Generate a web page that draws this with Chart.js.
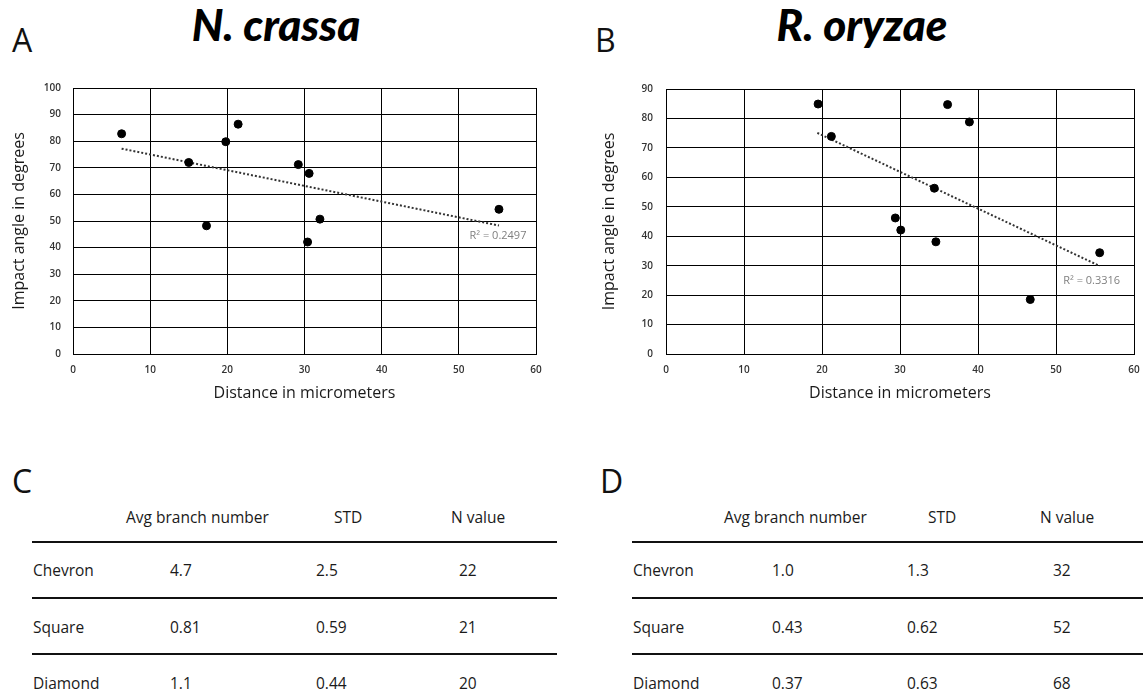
<!DOCTYPE html>
<html>
<head>
<meta charset="utf-8">
<script src="https://cdn.jsdelivr.net/npm/chart.js@4/dist/chart.umd.min.js"></script>
<style>
body { margin: 0; background: #fff; font-family: "Open Sans", sans-serif; color: #1a1a1a; }
#page { position: relative; width: 1143px; height: 700px; overflow: hidden; }
.abs { position: absolute; white-space: nowrap; }
.letter { font-size: 32px; line-height: 1; color: #111; }
.species { font-family: Lato, sans-serif; font-weight: 900; font-style: italic; font-size: 44px; line-height: 1; color: #000; transform: translateX(-50%); }
.cell { font-size: 15.5px; line-height: 1; transform: translateY(-50%); }
.rule { height: 2px; background: #111; }
canvas { position: absolute; }
</style>
</head>
<body>
<div id="page">
  <div class="abs letter" style="left:12px;top:24px">A</div>
  <div class="abs letter" style="left:595px;top:24px">B</div>
  <div class="abs letter" style="left:12px;top:465px">C</div>
  <div class="abs letter" style="left:600px;top:465px">D</div>
  <div class="abs species" style="left:276px;top:2px">N. crassa</div>
  <div class="abs species" style="left:862px;top:2px">R. oryzae</div>
  <canvas id="chartA" width="560" height="334" style="left:0;top:70px"></canvas>
  <canvas id="chartB" width="563" height="334" style="left:580px;top:70px"></canvas>
</div>

<script>
// N. crassa scatter (distance in micrometers, impact angle in degrees)
const ncDist  = [6.3, 15.0, 17.3, 19.8, 21.4, 29.2, 30.6, 32.0, 30.4, 55.2];
const ncAngle = [82.8, 72.0, 48.2, 79.8, 86.4, 71.2, 67.9, 50.7, 42.1, 54.4];
const ncTrendX = [6.3, 55.2];
const ncTrendY = [77.2, 48.3];

// R. oryzae scatter
const roDist  = [19.5, 21.2, 36.1, 38.9, 34.4, 29.4, 30.1, 34.6, 55.6, 46.7];
const roAngle = [84.9, 73.9, 84.7, 78.8, 56.3, 46.2, 42.1, 38.1, 34.4, 18.5];
const roTrendX = [19.4, 55.6];
const roTrendY = [75.1, 29.9];

const xTicks = [0, 10, 20, 30, 40, 50, 60];
const ncYTicks = [0, 10, 20, 30, 40, 50, 60, 70, 80, 90, 100];
const roYTicks = [0, 10, 20, 30, 40, 50, 60, 70, 80, 90];

// tables
const rowLabels = ["Chevron", "Square", "Diamond"];
const colHeaders = ["Avg branch number", "STD", "N value"];
const ncAvg = ["4.7", "0.81", "1.1"];
const ncStd = ["2.5", "0.59", "0.44"];
const ncN   = ["22", "21", "20"];
const roAvg = ["1.0", "0.43", "0.37"];
const roStd = ["1.3", "0.62", "0.63"];
const roN   = ["32", "52", "68"];

const r2Label = {
  id: 'r2Label',
  afterDatasetsDraw(chart, args, opts) {
    const meta = chart.getDatasetMeta(1);
    const end = meta.data[meta.data.length - 1];
    const ctx = chart.ctx;
    ctx.save();
    ctx.font = '11px "Open Sans"';
    ctx.fillStyle = '#7f7f7f';
    ctx.textAlign = 'center';
    ctx.textBaseline = 'middle';
    ctx.fillText(opts.text, end.x + opts.dx, end.y + opts.dy);
    ctx.restore();
  }
};

function scatterChart(id, xs, ys, tx, ty, yTicks, g) {
  const pts = xs.map((x, i) => ({ x: x, y: ys[i] }));
  const trend = tx.map((x, i) => ({ x: x, y: ty[i] }));
  return new Chart(document.getElementById(id), {
    type: 'scatter',
    data: {
      datasets: [
        {
          data: pts,
          backgroundColor: '#000',
          borderColor: '#000',
          pointRadius: 4,
          pointHoverRadius: 4
        },
        {
          type: 'line',
          data: trend,
          borderColor: '#333',
          borderWidth: 2,
          borderDash: [2, 2],
          pointRadius: 0,
          fill: false
        }
      ]
    },
    options: {
      responsive: false,
      animation: false,
      layout: { padding: { left: 0, top: 17, right: g.padRight, bottom: 0 } },
      plugins: {
        legend: { display: false },
        tooltip: { enabled: false },
        r2Label: g.r2
      },
      scales: {
        x: {
          type: 'linear',
          min: xTicks[0],
          max: xTicks[xTicks.length - 1],
          afterBuildTicks: s => { s.ticks = xTicks.map(v => ({ value: v })); },
          afterFit: s => { s.height = 50; },
          // invisible tick marks push the labels down without widening the right padding
          grid: { color: '#000', lineWidth: 1, drawTicks: true, tickLength: 7, tickColor: 'rgba(0,0,0,0)' },
          border: { color: '#000', width: 1 },
          ticks: { padding: 3, color: '#333', font: { family: 'Open Sans', size: 10, weight: '600' } },
          title: {
            display: true,
            text: 'Distance in micrometers',
            color: '#1a1a1a',
            font: { family: 'Open Sans', size: 16 },
            padding: { top: 0, bottom: 1 }
          }
        },
        y: {
          type: 'linear',
          min: yTicks[0],
          max: yTicks[yTicks.length - 1],
          afterBuildTicks: s => { s.ticks = yTicks.map(v => ({ value: v })); },
          afterFit: s => { s.width = g.yWidth; },
          grid: { color: '#000', lineWidth: 1, drawTicks: false },
          border: { color: '#000', width: 1 },
          ticks: { padding: g.tickPad, color: '#333', font: { family: 'Open Sans', size: 10, weight: '600' } },
          title: {
            display: true,
            text: 'Impact angle in degrees',
            color: '#1a1a1a',
            font: { family: 'Open Sans', size: 16 },
            padding: { top: g.titlePad, bottom: 0 }
          }
        }
      }
    },
    plugins: [r2Label]
  });
}

scatterChart('chartA', ncDist, ncAngle, ncTrendX, ncTrendY, ncYTicks,
  { padRight: 24, yWidth: 73, tickPad: 12, titlePad: 10, r2: { text: 'R² = 0.2497', dx: -1, dy: 10 } });
scatterChart('chartB', roDist, roAngle, roTrendX, roTrendY, roYTicks,
  { padRight: 9, yWidth: 86, tickPad: 13, titlePad: 20, r2: { text: 'R² = 0.3316', dx: -8, dy: 15 } });

// tables C and D
const page = document.getElementById('page');
function addText(txt, left, top) {
  const d = document.createElement('div');
  d.className = 'abs cell';
  d.style.left = left + 'px';
  d.style.top = top + 'px';
  d.textContent = txt;
  page.appendChild(d);
}
function addRule(left, width, top) {
  const d = document.createElement('div');
  d.className = 'abs rule';
  d.style.left = left + 'px';
  d.style.width = width + 'px';
  d.style.top = top + 'px';
  page.appendChild(d);
}
function buildTable(t, avg, std, n) {
  colHeaders.forEach((h, i) => addText(h, t.headX[i], 518));
  [541, 597, 653].forEach(y => addRule(t.ruleLeft, t.ruleWidth, y));
  const cols = [avg, std, n];
  rowLabels.forEach((lab, r) => {
    const y = 571 + r * 56.5;
    addText(lab, t.labelX, y);
    cols.forEach((c, i) => addText(c[r], t.colX[i], y));
  });
}
buildTable({ headX: [126, 334, 451], colX: [170, 316, 459], labelX: 33, ruleLeft: 32, ruleWidth: 525 }, ncAvg, ncStd, ncN);
buildTable({ headX: [724, 928, 1040], colX: [772, 907, 1053], labelX: 633, ruleLeft: 632, ruleWidth: 511 }, roAvg, roStd, roN);
</script>
</body>
</html>
